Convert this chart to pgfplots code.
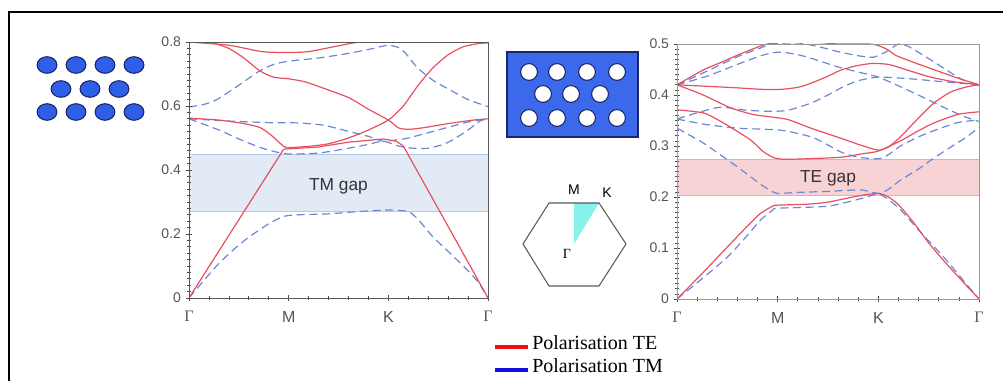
\documentclass[border=0pt]{standalone}
\usepackage{pgfplots}
\pgfplotsset{compat=1.18}
\usepackage{fontspec}
\setmainfont{Liberation Sans}
\newfontfamily\seriffont{Liberation Serif}
\definecolor{te}{HTML}{E8505F}
\definecolor{tm}{HTML}{6A88D4}
\definecolor{tmgap}{HTML}{E2EAF6}
\definecolor{tmgapline}{HTML}{B5C8E6}
\definecolor{tegap}{HTML}{F8D3D5}
\definecolor{tegapline}{HTML}{EFA9B0}
\definecolor{dotblue}{HTML}{2F5FE6}
\definecolor{dotline}{HTML}{1A2466}
\definecolor{rectblue}{HTML}{3C68EC}
\definecolor{bzcyan}{HTML}{86F2EA}
\definecolor{ticklab}{HTML}{555555}
\definecolor{legred}{HTML}{F01010}
\definecolor{legblue}{HTML}{1010E0}
\pgfplotsset{
  band/.style={scale only axis, xmin=0, xmax=3, xtick={0,1,2,3},
    xticklabels={{\seriffont Γ},M,K,{\seriffont Γ}},
    minor x tick num=4, minor y tick num=9,
    xtick pos=bottom, ytick pos=left, tick align=center,
    major tick length=5pt, minor tick length=2.5pt,
    tick label style={font=\fontsize{10.5}{12}\selectfont, text=ticklab},
    x tick label style={font=\fontsize{12}{14}\selectfont, yshift=-4pt},
    /pgf/number format/assume math mode=true,
    axis line style={gray!70!black},
    tick style={gray!60!black, line width=0.5pt},
    axis on top, clip=true},
  te/.style={color=te, line width=0.9pt},
  tm/.style={color=tm, line width=0.9pt, dash pattern=on 6pt off 3.5pt},
}
\begin{document}
\begin{tikzpicture}
\path[use as bounding box] (0pt,0pt) rectangle (752.25pt,285.75pt);
% overlay axis in pixel units
\begin{axis}[at={(0pt,0pt)}, anchor=south west, scale only axis,
  width=752.25pt, height=285.75pt, xmin=0, xmax=1003, ymin=0, ymax=381,
  hide axis, clip=false]
\addplot[black, line width=1.5pt] coordinates {(9,0) (9,369) (1003,369)};
\addplot[only marks, mark=*, mark size=6.2pt,
  mark options={xscale=1.2, fill=dotblue, draw=dotline, line width=0.8pt}]
  coordinates {(47,316) (76,316) (105,316) (134,316)
               (61,292) (90,292) (119,292)
               (47,269) (76,269) (105,269) (134,269)};
\addplot[fill=rectblue, draw=dotline, line width=0.8pt, line join=miter]
  coordinates {(507,244) (638,244) (638,329) (507,329) (507,244)} -- cycle;
\addplot[only marks, mark=*, mark size=6.3pt,
  mark options={fill=white, draw=dotline, line width=0.8pt}]
  coordinates {(529,309) (557,309) (587,309) (617,309)
               (543,287) (571,287) (600,287)
               (529,263) (557,263) (587,263) (617,263)};
\addplot[fill=bzcyan, draw=none] coordinates {(574,137) (574,178) (599,178) (574,137)} -- cycle;
\addplot[draw=gray!70!black, line width=0.8pt, line join=miter]
  coordinates {(549,178) (599,178) (626,137) (599,95) (549,95) (523,137) (549,178)} -- cycle;
\node[font=\fontsize{10.5}{12}\selectfont] at (axis cs:574,191) {M};
\node[font=\fontsize{10.5}{12}\selectfont] at (axis cs:607,188) {K};
\node[font=\seriffont\fontsize{10.5}{12}\selectfont] at (axis cs:567,127) {Γ};
% legend
\addplot[legred, line width=3pt] coordinates {(495,34) (528,34)};
\addplot[legblue, line width=3pt] coordinates {(495,11) (528,11)};
\node[anchor=west, inner sep=0pt, font=\seriffont\fontsize{15}{17}\selectfont] at (axis cs:532,38) {Polarisation TE};
\node[anchor=west, inner sep=0pt, font=\seriffont\fontsize{15}{17}\selectfont] at (axis cs:532,15) {Polarisation TM};
\end{axis}
% left band diagram (TM gap)
\begin{axis}[band, at={(141.75pt,62.25pt)}, anchor=south west,
  width=224.25pt, height=192pt, ymin=0, ymax=0.8,
  ytick={0,0.2,0.4,0.6,0.8}]
\addplot[fill=tmgap, draw=tmgapline, line width=0.6pt] coordinates {(0,0.272) (3,0.272) (3,0.45) (0,0.45) (0,0.272)};
\node[font=\fontsize{13}{15}\selectfont, text=black!80] at (axis cs:1.5,0.35) {TM gap};
\addplot[tm, smooth, tension=0.4] coordinates {(0,0) (0.15,0.055) (0.3,0.108) (0.45,0.152) (0.6,0.19) (0.8,0.232) (0.95,0.255) (1.1,0.26) (1.4,0.263) (1.7,0.27) (2.0,0.275) (2.2,0.27) (2.3,0.245) (2.45,0.19) (2.62,0.14) (2.79,0.088) (2.9,0.05) (3,0)};
\addplot[tm, smooth, tension=0.4] coordinates {(0,0.56) (0.3,0.525) (0.5,0.497) (0.7,0.472) (0.85,0.458) (1.0,0.45) (1.3,0.453) (1.6,0.468) (1.8,0.48) (1.95,0.49) (2.1,0.475) (2.25,0.468) (2.4,0.468) (2.55,0.48) (2.65,0.495) (2.8,0.525) (2.92,0.553) (3,0.56)};
\addplot[tm, smooth, tension=0.4] coordinates {(0,0.56) (0.4,0.553) (0.8,0.548) (1.1,0.547) (1.35,0.54) (1.61,0.52) (1.8,0.505) (1.95,0.49) (2.1,0.495) (2.2,0.5) (2.5,0.525) (2.8,0.55) (3,0.56)};
\addplot[tm, smooth, tension=0.4] coordinates {(0,0.597) (0.15,0.605) (0.28,0.62) (0.5,0.665) (0.71,0.71) (0.85,0.73) (1.0,0.74) (1.3,0.75) (1.61,0.765) (1.85,0.78) (2.0,0.79) (2.12,0.78) (2.2,0.755) (2.29,0.72) (2.45,0.68) (2.62,0.65) (2.8,0.62) (3,0.598)};
\addplot[tm] coordinates {(0.85,0.81) (1.0,0.8) (1.95,0.8) (2.05,0.81)};
\addplot[te] coordinates {(0,0) (0.95,0.465) (1.3,0.472) (1.6,0.487) (1.95,0.497) (2.08,0.49) (2.15,0.475) (3,0)};
\addplot[te, smooth, tension=0.4] coordinates {(0,0.562) (0.3,0.556) (0.55,0.545) (0.71,0.533) (0.82,0.51) (0.92,0.482) (0.98,0.47) (1.2,0.474) (1.4,0.482) (1.6,0.5) (1.8,0.525) (2.0,0.556) (2.15,0.6) (2.3,0.665) (2.45,0.72) (2.6,0.76) (2.75,0.785) (2.9,0.795) (3,0.797)};
\addplot[te, smooth, tension=0.4] coordinates {(0,0.8) (0.25,0.795) (0.4,0.78) (0.55,0.75) (0.71,0.71) (0.85,0.69) (1.0,0.685) (1.17,0.675) (1.4,0.65) (1.61,0.625) (1.8,0.59) (2.0,0.556) (2.1,0.532) (2.2,0.527) (2.35,0.532) (2.6,0.545) (2.85,0.556) (3,0.56)};
\addplot[te, smooth, tension=0.4] coordinates {(0,0.8) (0.4,0.79) (0.73,0.77) (1.0,0.767) (1.2,0.77) (1.45,0.785) (1.65,0.797) (1.8,0.8) (3,0.8)};
\end{axis}
% right band diagram (TE gap)
\begin{axis}[band, at={(507.75pt,61.5pt)}, anchor=south west,
  width=226.5pt, height=191.25pt, ymin=0, ymax=0.5,
  ytick={0,0.1,0.2,0.3,0.4,0.5},
  axis line style={gray!80}]
\addplot[fill=tegap, draw=tegapline, line width=0.6pt] coordinates {(0,0.203) (3,0.203) (3,0.273) (0,0.273) (0,0.203)};
\node[font=\fontsize{13}{15}\selectfont, text=black!80] at (axis cs:1.5,0.237) {TE gap};
\addplot[tm, smooth, tension=0.4] coordinates {(0,0) (0.25,0.04) (0.5,0.082) (0.7,0.125) (0.83,0.155) (0.95,0.174) (1.0,0.178) (1.5,0.182) (1.85,0.198) (2.0,0.206) (2.1,0.195) (2.22,0.175) (2.4,0.135) (2.65,0.082) (2.85,0.035) (3,0)};
\addplot[tm, smooth, tension=0.4] coordinates {(0,0.335) (0.26,0.306) (0.45,0.28) (0.6,0.259) (0.83,0.225) (0.95,0.21) (1.0,0.207) (1.2,0.209) (1.5,0.211) (1.82,0.214) (2.0,0.207) (2.1,0.215) (2.22,0.233) (2.4,0.255) (2.55,0.276) (2.72,0.298) (2.88,0.318) (3,0.337)};
\addplot[tm, smooth, tension=0.4] coordinates {(0,0.353) (0.26,0.343) (0.6,0.335) (1.03,0.331) (1.33,0.318) (1.5,0.302) (1.63,0.288) (1.8,0.278) (2.0,0.275) (2.1,0.283) (2.22,0.3) (2.4,0.318) (2.55,0.33) (2.79,0.346) (3,0.351)};
\addplot[tm, smooth, tension=0.4] coordinates {(0,0.353) (0.2,0.365) (0.43,0.376) (0.7,0.37) (0.93,0.368) (1.1,0.37) (1.33,0.384) (1.5,0.4) (1.63,0.414) (1.8,0.428) (2.0,0.435) (2.3,0.432) (2.7,0.425) (3,0.42)};
\addplot[tm, smooth, tension=0.4] coordinates {(0,0.42) (0.3,0.437) (0.6,0.46) (0.85,0.478) (1.0,0.484) (1.15,0.481) (1.3,0.474) (1.6,0.455) (1.8,0.445) (2.0,0.435) (2.2,0.418) (2.45,0.395) (2.69,0.372) (2.85,0.358) (3,0.348)};
\addplot[tm, smooth, tension=0.4] coordinates {(0,0.42) (0.3,0.447) (0.6,0.475) (0.8,0.49) (0.95,0.5) (1.2,0.502) (1.4,0.495) (1.6,0.485) (1.8,0.477) (1.95,0.474) (2.08,0.485) (2.2,0.5) (2.3,0.495) (2.52,0.469) (2.79,0.435) (2.9,0.425) (3,0.42)};
\addplot[te, smooth, tension=0.4] coordinates {(0,0) (0.25,0.05) (0.5,0.102) (0.7,0.143) (0.83,0.168) (0.95,0.182) (1.0,0.184) (1.3,0.186) (1.5,0.19) (1.8,0.202) (2.0,0.207) (2.1,0.2) (2.2,0.185) (2.35,0.15) (2.5,0.11) (2.65,0.075) (2.82,0.038) (3,0)};
\addplot[te, smooth, tension=0.4] coordinates {(0,0.371) (0.26,0.365) (0.4,0.352) (0.53,0.337) (0.73,0.312) (0.85,0.29) (0.95,0.278) (1.05,0.274) (1.3,0.275) (1.63,0.278) (1.85,0.285) (2.0,0.29) (2.22,0.31) (2.4,0.33) (2.55,0.345) (2.79,0.362) (3,0.367)};
\addplot[te, smooth, tension=0.4] coordinates {(0,0.42) (0.26,0.4) (0.53,0.375) (0.75,0.362) (0.93,0.357) (1.1,0.352) (1.33,0.335) (1.63,0.315) (1.85,0.3) (2.0,0.292) (2.1,0.298) (2.22,0.318) (2.4,0.355) (2.55,0.384) (2.72,0.406) (2.88,0.416) (3,0.42)};
\addplot[te, smooth, tension=0.4] coordinates {(0,0.42) (0.3,0.417) (0.6,0.414) (0.85,0.411) (1.03,0.411) (1.2,0.415) (1.33,0.423) (1.5,0.437) (1.63,0.449) (1.8,0.458) (1.95,0.462) (2.1,0.46) (2.19,0.455) (2.35,0.445) (2.52,0.435) (2.75,0.426) (3,0.42)};
\addplot[te, smooth, tension=0.4] coordinates {(0,0.42) (0.26,0.449) (0.45,0.465) (0.6,0.478) (0.75,0.49) (0.86,0.498) (1.0,0.503) (1.4,0.503) (1.6,0.5) (1.9,0.5) (2.0,0.497) (2.1,0.488) (2.17,0.478) (2.35,0.464) (2.52,0.452) (2.79,0.433) (3,0.42)};
\end{axis}
\end{tikzpicture}
\end{document}
